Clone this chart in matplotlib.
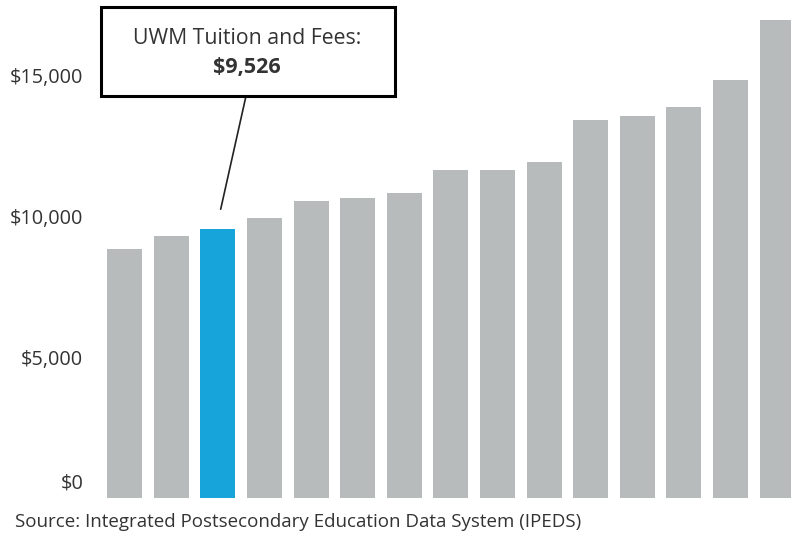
import matplotlib.pyplot as plt
from matplotlib.patches import Rectangle
from matplotlib.transforms import ScaledTranslation
import numpy as np

plt.rcParams['font.family'] = ['Open Sans', 'DejaVu Sans']

# tuition and fees per institution, sorted ascending (UWM highlighted)
tuition = [8820, 9280, 9526, 9940, 10520, 10650, 10810, 11640, 11640,
           11930, 13410, 13530, 13880, 14840, 16960]
highlight_idx = 2
tick_values = [0, 5000, 10000, 15000]
tick_labels = ['$0', '$5,000', '$10,000', '$15,000']
callout_title = 'UWM Tuition and Fees:'
callout_value = '$9,526'
source_note = 'Source: Integrated Postsecondary Education Data System (IPEDS)'

GRAY = '#B8BBBC'
BLUE = '#16A4DB'
TEXT = '#333333'

W, H = 791, 535
fig = plt.figure(figsize=(W / 100, H / 100), dpi=100)
ax = fig.add_axes([100 / W, 37 / H, 1 - 100 / W, 1 - 37 / H])

x = np.arange(len(tuition))
colors = [BLUE if i == highlight_idx else GRAY for i in x]
ax.bar(x, tuition, width=0.75, color=colors)

ax.set_xlim(-0.53, 14.30)
ax.set_ylim(0, 17660)

ax.set_yticks(tick_values)
ax.set_yticklabels(tick_labels, fontsize=14.3, color=TEXT)
ax.tick_params(axis='y', length=0, pad=12)
ax.set_xticks([])
for lbl in ax.get_yticklabels():
    if lbl.get_text() == '$0':
        lbl.set_va('bottom')
        lbl.set_transform(lbl.get_transform() +
                          ScaledTranslation(0, 0.05, fig.dpi_scale_trans))
for s in ax.spines.values():
    s.set_visible(False)

# callout box
box = Rectangle((101 / W, 1 - 96 / H), 294 / W, 89 / H,
                transform=fig.transFigure, facecolor='white',
                edgecolor='black', lw=2.2, zorder=5)
fig.patches.append(box)
fig.text(247 / W, 1 - 38 / H, callout_title, ha='center', va='center',
         fontsize=15.3, color=TEXT, zorder=6)
fig.text(247 / W, 1 - 67 / H, callout_value, ha='center', va='center',
         fontsize=15.5, fontweight='bold', color=TEXT, zorder=6)

ax.annotate('', xy=(2.06, tuition[highlight_idx] + 715), xycoords='data',
            xytext=(246 / W, 1 - 96 / H), textcoords='figure fraction',
            arrowprops=dict(arrowstyle='-', color='#222222', lw=1.2,
                            shrinkA=0, shrinkB=0))

fig.text(15 / W, 1 - 522 / H, source_note, ha='left', va='center',
         fontsize=13.5, color=TEXT)

fig.savefig('out.png', dpi=100)
